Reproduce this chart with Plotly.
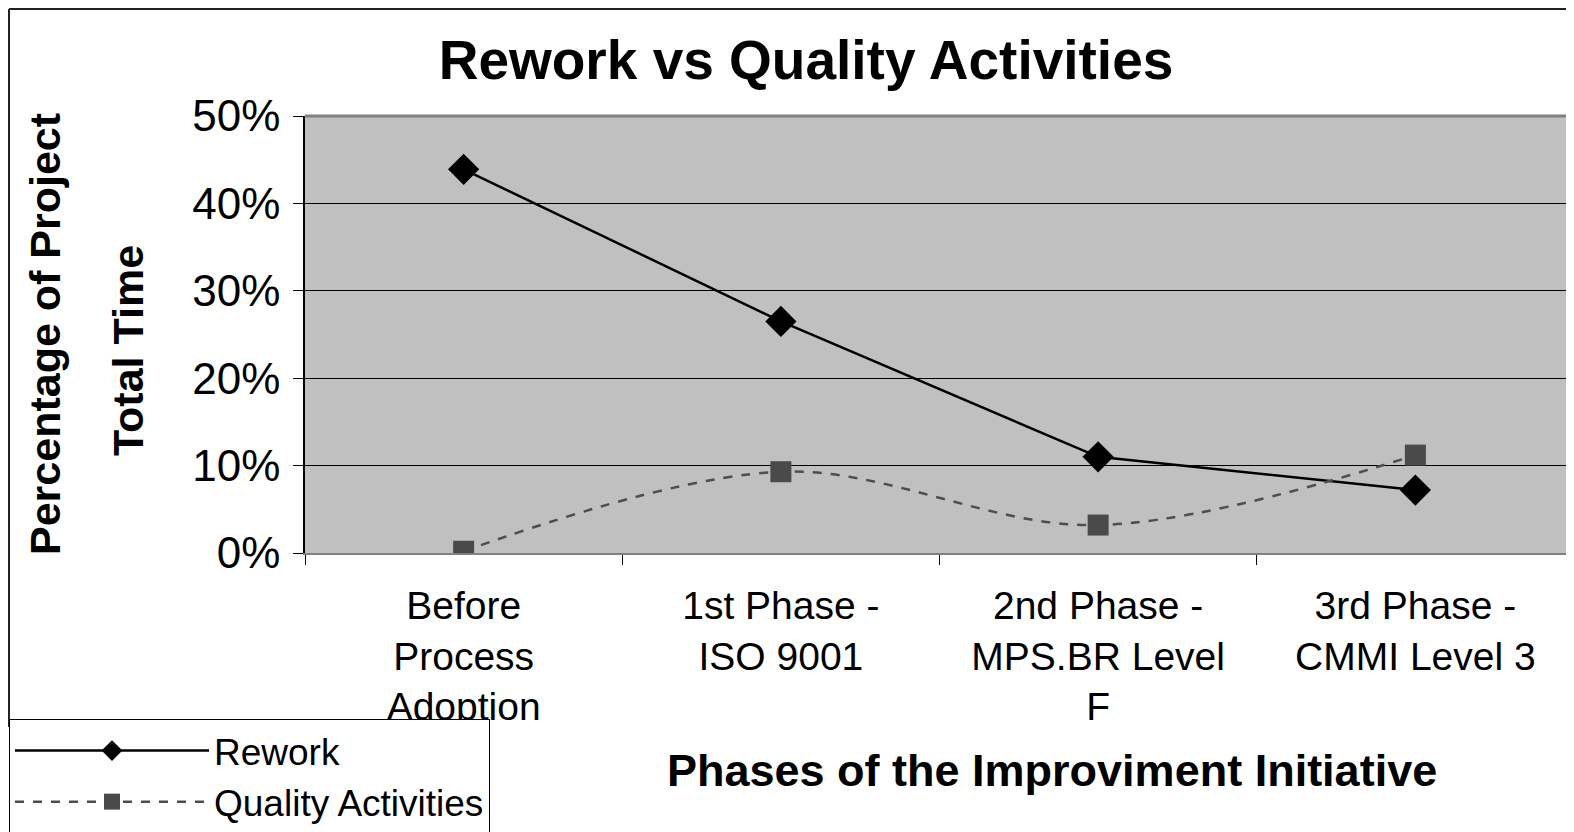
import plotly.graph_objects as go

categories = ["Before<br>Process<br>Adoption", "1st Phase -<br>ISO 9001",
              "2nd Phase -<br>MPS.BR Level<br>F", "3rd Phase -<br>CMMI Level 3"]
rework = [0.439, 0.265, 0.110, 0.072]
quality = [0.002, 0.093, 0.032, 0.112]
y_ticks = [0, 0.1, 0.2, 0.3, 0.4, 0.5]

FONT = "Liberation Sans, Arial, sans-serif"
OFF = 8  # page body margin
W, H = 1574 - OFF, 832 - OFF
ML = 305 - OFF
MT = 116 - OFF
MB = H - (553 - OFF)
MR = W - (1574 - OFF)
PW, PH = W - ML - MR, H - MT - MB

def px(sx):
    return (sx - OFF - ML) / PW

def py(sy):
    return (H - MB - (sy - OFF)) / PH

fig = go.Figure()
fig.add_trace(go.Scatter(
    x=categories, y=rework, name="Rework", mode="lines+markers",
    line=dict(color="#000000", width=2.5),
    marker=dict(symbol="diamond", size=24, color="#000000"),
))
fig.add_trace(go.Scatter(
    x=categories, y=quality, name="Quality Activities", mode="lines+markers",
    line=dict(color="#4d4d4d", width=2.5, dash="dash", shape="spline", smoothing=1),
    marker=dict(symbol="square", size=21, color="#4a4a4a"),
))

shapes = [
    dict(type="line", xref="paper", yref="paper", x0=px(9), x1=px(1574), y0=py(9), y1=py(9),
         line=dict(color="#222222", width=2)),
    dict(type="line", xref="paper", yref="paper", x0=px(9), x1=px(9), y0=py(9), y1=py(727),
         line=dict(color="#222222", width=2)),
    dict(type="line", xref="paper", yref="paper", x0=0, x1=1, y0=1, y1=1,
         line=dict(color="#808080", width=3)),
]

annotations = [
    dict(text="<b>Percentage of Project</b>", xref="paper", yref="paper",
         x=px(45), y=py(334), xanchor="center", yanchor="middle",
         textangle=-90, showarrow=False,
         font=dict(family=FONT, size=43, color="#000000")),
    dict(text="<b>Total Time</b>", xref="paper", yref="paper",
         x=px(128), y=py(351), xanchor="center", yanchor="middle",
         textangle=-90, showarrow=False,
         font=dict(family=FONT, size=43, color="#000000")),
    dict(text="<b>Phases of the Improviment Initiative</b>", xref="paper", yref="paper",
         x=px(1052), y=py(770), xanchor="center", yanchor="middle", showarrow=False,
         font=dict(family=FONT, size=45, color="#000000")),
]

fig.update_layout(
    width=W, height=H,
    margin=dict(l=ML, r=MR, t=MT, b=MB, autoexpand=False),
    paper_bgcolor="#ffffff", plot_bgcolor="#c0c0c0",
    title=dict(text="<b>Rework vs Quality Activities</b>", x=(806 - OFF) / W, xanchor="center",
               y=1 - (60 - OFF) / H, yanchor="middle",
               font=dict(family=FONT, size=55, color="#000000")),
    font=dict(family=FONT, color="#000000"),
    showlegend=True,
    legend=dict(x=px(9), y=py(719), xanchor="left", yanchor="top",
                bgcolor="#ffffff", bordercolor="#000000", borderwidth=1,
                font=dict(family=FONT, size=37, color="#000000"),
                itemwidth=194, tracegroupgap=0,
                entrywidth=330, entrywidthmode="pixels"),
    shapes=shapes, annotations=annotations,
)
fig.update_xaxes(
    type="category", showgrid=False, tickson="boundaries",
    ticks="outside", ticklen=10, tickcolor="#000000",
    showline=True, linecolor="#808080", linewidth=2,
    tickfont=dict(family=FONT, size=39, color="#000000"),
    ticklabelstandoff=17,
    range=[-0.5, 3.5],
)
fig.update_yaxes(
    range=[0, 0.5], tickvals=y_ticks, tickformat=".0%",
    showgrid=True, gridcolor="#000000", gridwidth=1, zeroline=False,
    ticks="outside", ticklen=10, tickcolor="#000000",
    showline=True, linecolor="#000000", linewidth=1.5,
    tickfont=dict(family=FONT, size=44, color="#000000"),
    ticklabelstandoff=4,
)

fig.write_html("out.html")
